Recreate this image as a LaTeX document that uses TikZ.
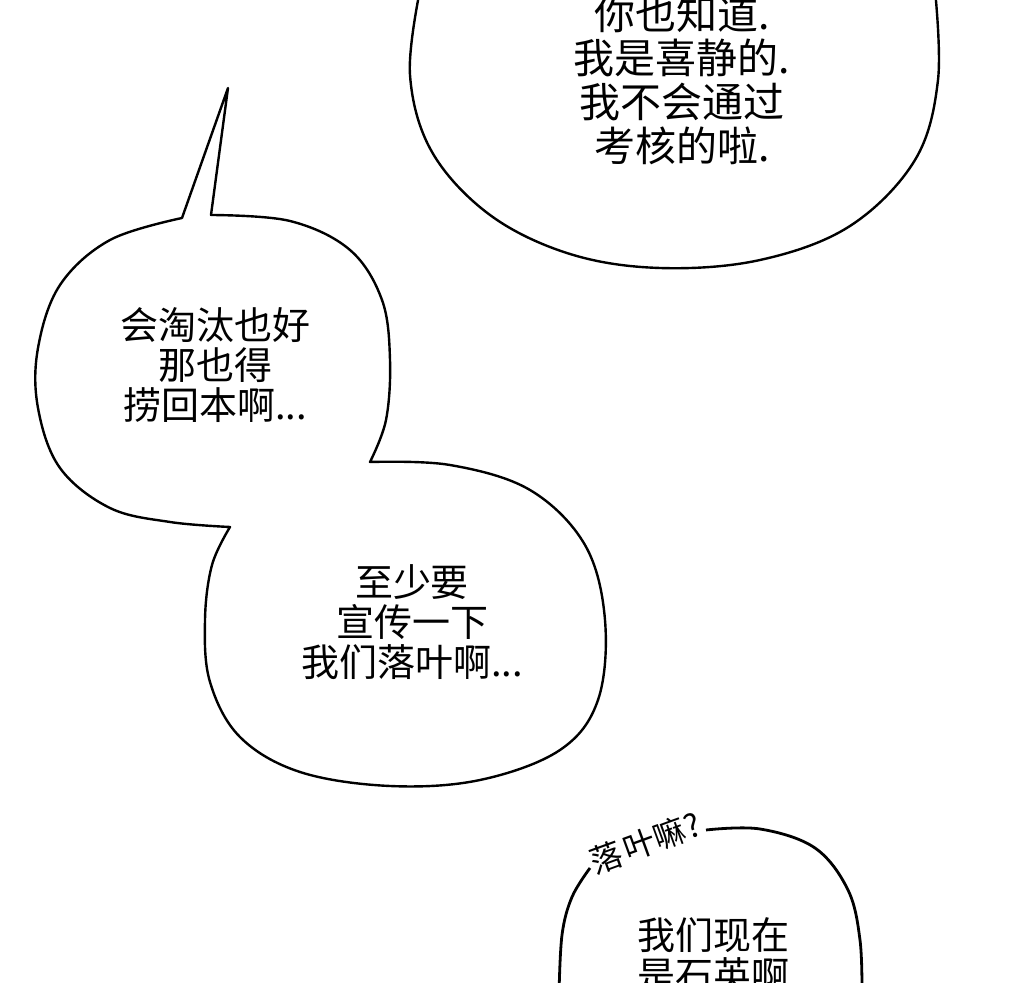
\documentclass[tikz,border=0pt]{standalone}
\usepackage{fontspec}
\newfontfamily\cjk{Noto Sans CJK SC}
\begin{document}
\begin{tikzpicture}[x=0.5pt,y=-0.5pt,
  bubble/.style={draw=black,line width=1.2pt,fill=white,line join=round},
  txt/.style={font=\cjk\fontsize{19}{20}\selectfont,align=center,inner sep=0pt},
  bigtxt/.style={font=\cjk\fontsize{20.5}{22}\selectfont,align=center,inner sep=0pt},
  hand/.style={font=\cjk\fontsize{16}{17}\selectfont,inner sep=0pt}]
\useasboundingbox (0,0) rectangle (1024,983);
\clip (0,0) rectangle (1024,983);
\fill[white] (0,0) rectangle (1024,983);
% top bubble
\draw[bubble] plot[smooth,tension=0.6] coordinates {(420,-10) (410,75) (432,152) (490,215) (570,254) (660,268) (760,260) (850,226) (915,160) (938,80) (935,-10)};
\node[bigtxt] (t1) at (682,80) {你也知道.\\我是喜静的.\\我不会通过\\考核的啦.};
% merged left bubbles
\draw[bubble] (228,88) -- (211,215)
 -- plot[smooth,tension=0.6] coordinates {(211,215) (290,221) (350,250) (382,300) (390,360) (386,420) (370,462)}
 -- plot[smooth,tension=0.6] coordinates {(370,462) (450,465) (530,490) (585,545) (605,620) (598,700) (560,750) (480,780) (390,786) (300,772) (240,737) (210,682) (205,620) (212,565) (230,527)}
 -- plot[smooth,tension=0.6] coordinates {(230,527) (170,522) (110,508) (60,468) (38,408) (38,348) (60,285) (110,240) (182,218)}
 -- cycle;
\node[txt] (t2) at (215,365) {会淘汰也好\\那也得\\捞回本啊...};
\node[txt] (t3) at (412,622) {至少要\\宣传一下\\我们落叶啊...};
% bottom right bubble
\draw[draw=black,line width=1.4pt] plot[smooth,tension=0.6] coordinates {(590,868) (572,897) (562,935) (559,995)};
\draw[draw=black,line width=1.4pt] plot[smooth,tension=0.6] coordinates {(706,830) (760,829) (815,848) (848,890) (860,940) (862,995)};
\node[hand,rotate=20] (h) at (645,843) {落\hspace{2pt}叶嘛?};
\node[txt] (t4) at (713,955) {我们现在\\是石英啊};
\end{tikzpicture}
\end{document}
